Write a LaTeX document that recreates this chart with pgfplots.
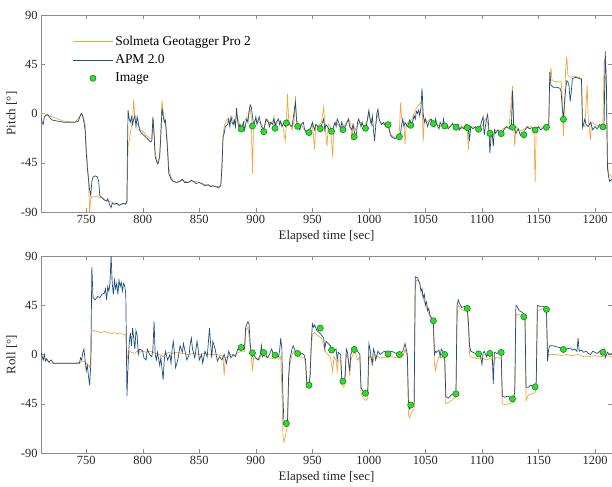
\documentclass[border=0pt]{standalone}
\usepackage{pgfplots}
\pgfplotsset{compat=1.18}
\usepackage{fontspec}
\setmainfont{Liberation Serif}

\definecolor{solmeta}{RGB}{246,165,60}
\definecolor{apm}{RGB}{30,80,125}
\definecolor{imgfill}{RGB}{40,225,40}
\definecolor{imgedge}{RGB}{25,115,25}
\definecolor{frame}{RGB}{140,140,140}

\pgfplotsset{
  flight/.style={
    scale only axis, width=571bp, height=197bp,
    xmin=710, xmax=1215, ymin=-90, ymax=90,
    xtick={750,800,...,1200}, ytick={-90,-45,0,45,90},
    tick align=inside, major tick length=4bp,
    axis line style={frame}, tick style={frame},
    ticklabel style={font=\fontsize{12.5}{13}\selectfont, text=black!85},
    /pgf/number format/assume math mode=true,
    /pgf/number format/set thousands separator={},
    label style={font=\fontsize{13}{14}\selectfont, text=black!85},
    xlabel={Elapsed time [sec]},
    xlabel style={yshift=0bp},
    ylabel style={yshift=-3bp},
    clip=true,
  },
  sol/.style={color=solmeta, line width=0.7pt, no marks},
  apmline/.style={color=apm, line width=0.7pt, no marks},
  imgmark/.style={only marks, mark=*, mark size=3.1bp,
    mark options={fill=imgfill, draw=imgedge, line width=0.5pt}},
}

\begin{document}
\begin{tikzpicture}
\path[use as bounding box] (0,0) rectangle (612bp,487bp);

% ---------- pitch ----------
\begin{axis}[flight, at={(41bp,275bp)}, anchor=south west,
    ylabel={Pitch [°]},
    legend style={draw=none, fill=none, at={(0.055,0.905)}, anchor=north west,
      font=\fontsize{13.5}{14}\selectfont, row sep=4bp, inner sep=0pt},
    legend cell align=left,
    legend image code/.code={\draw[mark repeat=2,mark phase=2,#1]
      plot coordinates {(0bp,0bp) (20bp,0bp) (40bp,0bp)};},
  ]
  % Solmeta Geotagger Pro 2
  \addplot[sol] coordinates {
    (710,0) (713,0) (716,-2) (720,-3) (725,-5) (730,-7) (740,-8) (745,-2) (746,0) (748,-5)
    (749,-10) (750,-30) (751,-45) (752,-60) (753,-90) (754,-78) (755,-76) (760,-76) (763,-77)
    (765,-78) (768,-80) (770,-80) (775,-82) (780,-83) (785,-82) (786,-80) (787,-30) (788,-25)
    (789,-18) (790,-12) (791,-5) (792,13) (793,-5) (794,-8) (796,-10) (798,-15) (800,-16)
    (803,-20) (806,-22) (808,-23) (809,-5) (810,-15) (811,-35) (813,-45) (815,-40) (816,-15)
    (817,12) (818,3) (819,-5) (821,-15) (822,-30) (823,-50) (825,-58) (827,-62) (830,-63)
    (835,-61) (840,-63) (845,-62) (850,-63) (855,-65) (860,-66) (865,-67) (869,-66) (870,-45)
    (871,-20) (872,-12) (873,-8) (875,-5) (877,-8) (879,-3) (881,-10) (883,0) (885,-8)
    (887,-12) (889,-10) (891,-5) (893,-3) (895,5) (896,-5) (897,-55) (898,-8) (900,-5)
    (903,-8) (905,-10) (907,-14) (910,-5) (913,-10) (916,-5) (918,-10) (920,-6) (922,-8)
    (924,-12) (926,-25) (927,-10) (928,18) (929,-5) (930,-10) (932,-15) (934,-5) (935,16)
    (936,-8) (938,-12) (940,-10) (943,-15) (945,-18) (947,-15) (950,-10) (952,-33) (953,-10)
    (955,-12) (958,-8) (960,6) (961,-10) (963,-30) (964,-10) (966,-12) (968,-40) (969,-10)
    (971,-8) (974,-12) (977,-14) (980,-8) (982,-5) (984,-10) (985,-25) (986,-10) (988,-15)
    (990,-10) (993,-8) (996,-12) (999,-5) (1000,0) (1002,-8) (1004,-12) (1006,-10) (1008,0)
    (1010,-8) (1013,-10) (1016,-12) (1018,-15) (1020,-20) (1023,-22) (1026,-20) (1027,-15)
    (1028,10) (1029,-5) (1031,-10) (1032,-28) (1033,-10) (1035,-8) (1038,-5) (1040,0)
    (1042,5) (1044,8) (1046,10) (1047,12) (1048,-25) (1049,-5) (1051,-8) (1054,-5) (1057,-8)
    (1060,-10) (1063,-12) (1066,-8) (1070,-12) (1074,-10) (1078,-12) (1082,-14) (1086,-10)
    (1087,-15) (1088,-33) (1089,-12) (1092,-12) (1096,-14) (1100,-12) (1103,-5) (1105,-8)
    (1107,-27) (1108,-15) (1110,-20) (1112,-15) (1116,-16) (1120,-13) (1124,-12) (1127,25)
    (1128,-10) (1129,-30) (1130,-12) (1134,-16) (1138,-14) (1142,-12) (1145,-13) (1146,-15)
    (1147,-63) (1148,-14) (1152,-12) (1156,-13) (1159,-12) (1160,30) (1161,42) (1162,30)
    (1166,29) (1170,29) (1171,15) (1172,-21) (1173,5) (1174,40) (1175,52) (1176,35) (1178,33)
    (1182,34) (1186,33) (1188,32) (1189,-10) (1191,-12) (1193,26) (1194,-5) (1196,-24)
    (1197,-8) (1200,-10) (1204,-12) (1207,-10) (1208,47) (1209,50) (1210,10) (1211,-45)
    (1212,-55) (1215,-58)
  };
  % APM 2.0
  \addplot[apmline] coordinates {
    (710,-4) (711,-8) (712,-10) (713,-3) (714,-2) (716,-1) (718,-4) (720,-6) (725,-7) (730,-8)
    (735,-8) (740,-8) (743,-7) (745,-1) (746,0) (747,-3) (748,-8) (749,-15) (750,-35) (751,-50)
    (752,-60) (753,-70) (754,-75) (755,-62) (756,-58) (758,-57) (760,-58) (761,-62) (762,-75)
    (764,-77) (766,-79) (768,-80) (769,-78) (771,-84) (772,-86) (773,-82) (775,-83) (777,-82)
    (779,-84) (781,-83) (783,-82) (785,-83) (786,-80) (786.5,-30) (787,3) (788,-5) (789,-8)
    (790,-3) (791,-10) (792,-5) (793,-2) (794,-12) (795,-3) (796,-8) (797,-15) (799,-18)
    (801,-20) (803,-22) (805,-24) (807,-26) (808,-25) (809,-3) (810,-20) (811,-40) (812,-43)
    (813,-46) (814,-45) (815,-38) (816,-20) (817,5) (818,-2) (819,-8) (820,-6) (821,-20)
    (822,-35) (823,-55) (825,-60) (827,-62) (830,-63) (833,-62) (835,-60) (837,-63) (840,-63)
    (843,-61) (845,-62) (847,-64) (850,-63) (852,-64) (855,-66) (858,-65) (860,-67) (862,-66)
    (865,-67) (867,-68) (869,-66) (870,-50) (871,-22) (872,-18) (873,-12) (875,-10) (876,-5)
    (877,-12) (878,-3) (879,-8) (880,-10) (881,-6) (882,-12) (883,5) (884,-8) (885,-12)
    (886,-10) (887,-14) (888,-12) (889,-8) (890,-15) (891,-10) (892,-5) (893,-8) (894,2)
    (895,8) (896,6) (897,-2) (898,-10) (899,-8) (900,-3) (901,-10) (903,-3) (904,-8) (905,-12)
    (907,-15) (908,-10) (909,-5) (911,-8) (912,-12) (913,-8) (915,-10) (916,-4) (917,-12)
    (918,-8) (920,-5) (921,-10) (922,-7) (923,-12) (925,-8) (926,-12) (927,-9) (928,-6)
    (930,-10) (932,-12) (933,-5) (935,10) (936,-5) (937,-12) (939,-15) (940,-10) (942,-8)
    (943,-14) (945,-18) (947,-17) (949,-12) (950,-8) (952,-15) (953,-10) (955,-12) (957,-14)
    (959,-8) (960,-5) (961,-15) (962,-10) (964,-13) (966,-18) (968,-15) (970,-8) (971,-12)
    (972,-5) (974,-10) (975,-15) (976,-8) (978,-14) (980,-10) (982,-5) (983,-12) (985,-15)
    (986,-10) (988,-22) (989,-18) (990,-8) (991,-5) (993,-12) (994,-8) (996,-15) (998,-10)
    (999,-3) (1000,3) (1001,-5) (1002,-10) (1003,-2) (1004,-15) (1005,-25) (1006,-12) (1007,0)
    (1008,4) (1009,-5) (1011,-10) (1013,-8) (1015,-12) (1017,-10) (1018,-14) (1019,-20)
    (1021,-22) (1023,-23) (1025,-22) (1027,-21) (1028,-18) (1029,-10) (1030,-5) (1031,-12)
    (1032,-8) (1034,-12) (1035,-10) (1036,-6) (1038,-10) (1040,-2) (1041,-5) (1042,2) (1043,0)
    (1044,3) (1045,-2) (1046,5) (1047,23) (1048,0) (1049,-8) (1050,-5) (1052,-12) (1053,-8)
    (1055,-5) (1057,-9) (1058,-12) (1059,-5) (1060,-10) (1062,-14) (1063,-8) (1065,-12)
    (1066,-5) (1067,-11) (1069,-10) (1070,-14) (1072,-12) (1074,-9) (1076,-13) (1077,-12)
    (1079,-10) (1080,-15) (1082,-12) (1084,-14) (1086,-10) (1087,-13) (1088,-15) (1089,-25)
    (1090,-12) (1092,-14) (1094,-12) (1096,-15) (1098,-14) (1100,-6) (1101,-3) (1102,-20)
    (1103,-12) (1104,-5) (1105,-1) (1106,-12) (1107,-36) (1108,-22) (1109,-18) (1110,-30)
    (1111,-15) (1112,-18) (1114,-15) (1116,-18) (1118,-17) (1120,-14) (1122,-12) (1124,-14)
    (1126,-12) (1127,21) (1128,-10) (1129,-15) (1130,-18) (1132,-14) (1134,-20) (1136,-18)
    (1137,-22) (1138,-15) (1140,-12) (1142,-14) (1144,-13) (1146,-15) (1148,-14) (1150,-12)
    (1152,-15) (1154,-13) (1156,-14) (1158,-13) (1159,-12) (1160,38) (1161,26) (1163,24)
    (1166,24) (1169,23) (1170,20) (1171,5) (1172,-4) (1173,10) (1174,22) (1175,30) (1176,29)
    (1177,25) (1178,11) (1179,20) (1180,32) (1183,33) (1186,32) (1188,31) (1189,-13)
    (1191,-5) (1192,-10) (1194,-12) (1196,-8) (1198,-15) (1200,-12) (1202,-14) (1204,-10)
    (1206,-12) (1207,-13) (1208,-10) (1209,57) (1210,30) (1211,-50) (1212,-58) (1213,-62)
    (1215,-60)
  };
  % Image
  \addplot[imgmark] coordinates {
    (887,-14.2) (897,-11.4) (907,-16.6) (917,-13.5) (927,-8.7) (937,-11.7) (947,-17.4)
    (957,-13.9) (967,-16.3) (977,-14.8) (987,-21.2) (997,-13.5) (1017,-10.2) (1027,-21.2)
    (1037,-10.8) (1057,-9.3) (1067,-11.4) (1077,-12.6) (1087,-12.9) (1097,-14.4)
    (1107,-18.1) (1117,-18.4) (1127,-12.6) (1137,-19.4) (1147,-15.1) (1157,-12.6)
    (1172,-5.3) (1207,-12.3)
  };
  \legend{Solmeta Geotagger Pro 2, APM 2.0, Image}
\end{axis}

% ---------- roll ----------
\begin{axis}[flight, at={(41bp,34bp)}, anchor=south west,
    ylabel={Roll [°]},
  ]
  % Solmeta Geotagger Pro 2
  \addplot[sol] coordinates {
    (710,0) (712,-3) (715,-5) (718,-8) (722,-8) (730,-8) (740,-8) (745,-7) (748,-6) (750,-8)
    (752,-10) (753,-12) (754,-5) (755,21) (757,22) (760,21) (763,20) (766,21) (769,20)
    (772,19) (775,20) (778,19) (781,19) (785,18) (786,0) (787,-5) (788,3) (790,2) (793,1)
    (795,3) (797,2) (800,3) (803,2) (806,3) (809,2) (812,1) (815,0) (818,-2) (820,0) (823,2)
    (826,1) (830,2) (835,1) (840,0) (845,1) (850,0) (855,1) (860,0) (865,0) (870,-1) (871,-2)
    (872,-19) (873,-3) (875,-2) (878,0) (880,-1) (885,2) (888,3) (890,3) (891,22) (893,25)
    (895,8) (896,-2) (897,-15) (898,-3) (900,-4) (903,-5) (905,0) (908,-2) (912,-3) (916,-4)
    (920,-4) (922,-2) (923,-30) (924,-75) (925,-80) (927,-70) (928,-65) (929,-25) (930,-10)
    (932,0) (934,3) (937,0) (940,-3) (943,-3) (944,-10) (945,-30) (947,-31) (948,-15) (949,5)
    (950,18) (952,20) (955,17) (958,15) (960,8) (962,2) (964,0) (966,-3) (968,-16) (969,-2)
    (971,-5) (972,-15) (973,-5) (975,-5) (976,-28) (978,-30) (979,-15) (980,0) (982,-5)
    (983,-20) (984,-5) (986,0) (988,2) (990,-5) (992,-2) (993,-35) (995,-40) (997,-42)
    (999,-40) (1000,-5) (1001,0) (1003,-10) (1005,0) (1008,-2) (1010,-3) (1015,-3) (1020,-2)
    (1025,-3) (1030,-2) (1032,5) (1034,-3) (1035,-55) (1036,-58) (1038,-52) (1040,-50)
    (1041,60) (1042,68) (1044,67) (1046,60) (1048,52) (1050,45) (1052,40) (1054,35) (1056,30)
    (1057,28) (1058,-10) (1059,-15) (1060,-8) (1062,-2) (1065,-3) (1067,-5) (1068,-45)
    (1070,-44) (1073,-42) (1076,-40) (1077,-38) (1078,35) (1079,45) (1081,42) (1084,40)
    (1087,40) (1088,25) (1089,0) (1090,-2) (1093,-3) (1096,-4) (1100,-3) (1104,-5) (1108,-3)
    (1110,-10) (1112,-3) (1115,-3) (1117,-4) (1118,-45) (1120,-46) (1124,-45) (1128,-44)
    (1129,-40) (1130,35) (1131,37) (1134,36) (1137,35) (1138,33) (1139,-42) (1141,-37)
    (1144,-36) (1147,-35) (1148,-30) (1149,40) (1151,41) (1155,42) (1157,42) (1158,-2)
    (1160,0) (1165,0) (1170,-1) (1175,0) (1180,-1) (1185,0) (1190,-2) (1195,-2) (1200,-1)
    (1205,-2) (1210,-1) (1215,-2)
  };
  % APM 2.0
  \addplot[apmline] coordinates {
    (710,3) (711,-2) (712,-5) (713,0) (714,-6) (715,-4) (717,-7) (719,-5) (721,-8) (725,-8)
    (730,-8) (735,-8) (740,-8) (744,-8) (745,-3) (746,-5) (747,2) (748,5) (749,-5) (750,-15)
    (751,-10) (752,-20) (753,-28) (754,-10) (755,80) (756,52) (758,50) (760,53) (762,52)
    (764,55) (766,56) (767,60) (768,50) (769,62) (770,58) (771,65) (772,90) (773,65) (774,55)
    (775,68) (776,60) (777,65) (778,55) (779,68) (780,62) (781,66) (782,58) (783,65) (784,63)
    (785,55) (786,-38) (787,-10) (788,10) (789,20) (790,8) (791,24) (792,15) (793,5) (794,22)
    (795,18) (796,0) (797,5) (799,4) (800,3) (801,-3) (803,-5) (804,5) (806,0) (808,-2)
    (809,5) (810,30) (811,0) (812,-5) (813,2) (815,-10) (816,-3) (818,-23) (819,-5) (820,3)
    (822,-5) (824,0) (825,-8) (826,5) (827,12) (828,2) (829,-12) (831,-5) (833,8) (835,2)
    (836,10) (837,5) (839,-5) (841,0) (842,10) (843,15) (844,5) (846,-3) (848,12) (849,5)
    (850,-5) (852,0) (853,-8) (855,3) (857,-2) (859,24) (860,10) (861,-3) (862,12) (864,5)
    (866,-6) (868,-2) (870,-5) (872,0) (874,-8) (876,3) (878,-3) (880,0) (882,-2) (884,5)
    (886,4) (888,6) (890,5) (891,25) (893,30) (894,28) (895,10) (896,2) (897,-2) (898,0)
    (900,-3) (902,-5) (904,0) (905,8) (906,-2) (908,2) (910,-3) (912,0) (914,5) (916,-1)
    (918,-1) (920,-2) (921,3) (922,15) (923,5) (924,-40) (925,-64) (927,-64) (928,-62)
    (929,-20) (930,-5) (932,5) (933,8) (935,3) (937,1) (939,0) (941,1) (943,-1) (944,-5)
    (945,-25) (947,-28) (948,-20) (949,10) (950,28) (951,25) (952,27) (954,22) (956,20)
    (958,18) (960,15) (961,5) (962,12) (964,10) (966,8) (967,4) (969,3) (971,5) (972,-5)
    (973,2) (975,0) (976,-22) (978,-25) (979,-20) (980,5) (981,2) (983,-15) (984,0) (986,5)
    (987,7) (988,5) (990,3) (992,0) (993,-30) (995,-34) (997,-35) (999,-33) (1000,10) (1001,5)
    (1002,-3) (1003,-8) (1004,5) (1005,2) (1006,-5) (1008,3) (1010,0) (1012,2) (1014,3)
    (1016,1) (1018,2) (1020,3) (1022,2) (1024,1) (1026,2) (1028,1) (1030,3) (1032,10) (1033,5)
    (1034,0) (1035,-45) (1036,-50) (1038,-46) (1040,-45) (1041,71) (1043,70) (1045,65)
    (1046,58) (1047,60) (1048,52) (1049,55) (1050,45) (1051,48) (1052,40) (1053,42) (1054,36)
    (1056,32) (1057,31) (1058,0) (1059,3) (1060,2) (1062,4) (1063,-2) (1064,5) (1066,2)
    (1067,0) (1068,-38) (1070,-40) (1072,-38) (1074,-36) (1077,-36) (1078,45) (1079,50)
    (1080,47) (1082,43) (1085,44) (1087,42) (1088,30) (1089,8) (1090,3) (1092,2) (1094,1)
    (1096,0) (1098,2) (1100,-9) (1101,1) (1102,3) (1104,-2) (1105,2) (1107,1) (1109,2)
    (1110,-27) (1111,2) (1113,1) (1115,2) (1117,2) (1118,-38) (1120,-39) (1123,-38) (1126,-40)
    (1128,-38) (1129,-35) (1130,45) (1131,44) (1133,40) (1135,39) (1137,37) (1138,35)
    (1139,-30) (1141,-30) (1143,-28) (1145,-29) (1147,-29) (1148,-25) (1149,45) (1151,44)
    (1154,44) (1157,43) (1158,-6) (1159,5) (1160,8) (1163,8) (1166,7) (1170,6) (1173,6)
    (1175,5) (1178,6) (1180,4) (1182,5) (1184,3) (1185,15) (1186,3) (1188,4) (1190,2)
    (1192,3) (1194,1) (1196,0) (1198,3) (1200,2) (1202,1) (1204,3) (1206,2) (1207,1) (1208,5)
    (1209,-3) (1211,2) (1213,0) (1215,1)
  };
  % Image
  \addplot[imgmark] coordinates {
    (887,6.4) (897,1.5) (907,1.8) (917,-0.6) (927,-63.1) (937,1.0) (947,-28.0) (957,24.1)
    (967,4.0) (977,-24.4) (987,4.6) (997,-35.4) (1017,0.6) (1027,0.0) (1037,-46.1)
    (1057,30.8) (1067,0.0) (1077,-36.0) (1087,42.1) (1097,0.6) (1107,1.0) (1117,1.9)
    (1127,-40.6) (1137,34.5) (1147,-29.6) (1157,41.2) (1172,4.6) (1207,2.1)
  };
\end{axis}
\end{tikzpicture}
\end{document}
